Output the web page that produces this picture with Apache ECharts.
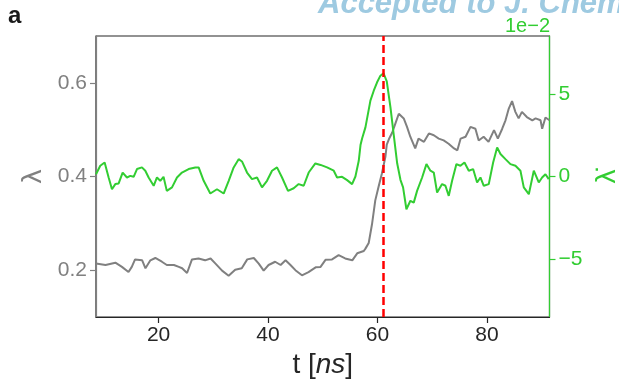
<!DOCTYPE html>
<html>
<head>
<meta charset="utf-8">
<title>lambda vs t</title>
<script src="https://cdn.jsdelivr.net/npm/echarts@6/dist/echarts.min.js"></script>
<style>
  html, body { margin: 0; padding: 0; background: #fff; }
  #main { width: 619px; height: 380px; }
</style>
</head>
<body>
<div id="main"></div>
<script>
// gray curve: lambda (left axis)
var lamT = [8.56, 10.3, 12.1, 13.3, 14.5, 15.1, 15.7, 17.0, 17.6, 18.5, 19.4, 20.6, 21.5, 22.8, 23.7,
  24.3, 25.2, 26.1, 27.3, 28.5, 29.5, 30.4, 31.6, 32.8, 34.0, 35.2, 36.2, 37.4, 38.3, 39.2,
  40.1, 41.3, 42.3, 43.2, 44.1, 45.0, 46.2, 47.4, 48.7, 49.6, 50.5, 51.7, 52.9, 54.1, 55.4,
  56.3, 57.5, 57.8, 58.4, 59.0, 59.6, 60.2, 60.8, 61.45, 61.7, 62.1, 62.7, 63.3, 63.9, 64.2, 64.8, 65.4, 66.0,
  66.9, 67.5, 68.5, 69.4, 70.3, 71.2, 72.1, 73.0, 74.0, 74.6, 75.2, 76.1, 77.0, 77.9, 78.5,
  79.4, 80.3, 81.3, 82.0, 82.8, 83.4, 84.0, 84.6, 85.2, 85.8, 86.4, 87.3, 88.3, 88.9, 89.8,
  90.1, 90.7, 91.44];
var lamV = [0.214, 0.211, 0.216, 0.207, 0.196, 0.207, 0.223, 0.221, 0.204, 0.221, 0.226, 0.218, 0.211, 0.211, 0.207,
  0.204, 0.194, 0.223, 0.225, 0.221, 0.225, 0.214, 0.199, 0.188, 0.201, 0.204, 0.223, 0.226, 0.214, 0.199,
  0.211, 0.218, 0.211, 0.221, 0.211, 0.200, 0.189, 0.196, 0.206, 0.207, 0.222, 0.223, 0.232, 0.225, 0.221,
  0.236, 0.241, 0.246, 0.258, 0.298, 0.349, 0.378, 0.406, 0.442, 0.468, 0.480, 0.494, 0.514, 0.534, 0.534, 0.524, 0.506, 0.485,
  0.460, 0.481, 0.474, 0.492, 0.488, 0.481, 0.477, 0.470, 0.460, 0.456, 0.481, 0.485, 0.506, 0.502, 0.477,
  0.485, 0.474, 0.499, 0.481, 0.502, 0.520, 0.545, 0.561, 0.538, 0.524, 0.538, 0.527, 0.520, 0.524, 0.520,
  0.502, 0.526, 0.520];

// green curve: d lambda / dt, in units of 1e-2 (right axis)
var dotT = [8.56, 9.34, 10.14, 10.87, 11.48, 12.09, 12.70, 13.43, 14.22, 14.83, 15.44, 16.05, 16.96, 17.57, 18.18,
  19.1, 19.7, 20.3, 20.9, 21.5, 22.45, 23.36, 24.27, 25.49, 26.71, 27.32, 28.24, 29.45, 30.67, 31.89,
  32.81, 33.72, 34.63, 35.24, 36.16, 37.07, 37.99, 38.9, 39.81, 40.73, 41.64, 42.56, 43.65, 44.69, 45.6,
  46.52, 47.43, 48.65, 49.6, 50.79, 52.01, 52.62, 53.53, 54.45, 55.36, 55.97, 56.58, 56.9, 57.19, 57.8,
  58.71, 59.32, 59.93, 60.54, 61.1, 61.7, 62.37, 62.98, 63.6, 64.2, 64.68, 65.29, 66.02, 66.63, 67.24,
  68.16, 68.95, 69.68, 70.29, 70.9, 71.81, 72.42, 73.03, 73.64, 74.43, 75.16, 75.9, 76.69, 77.48, 78.21,
  78.82, 79.43, 80.34, 81.14, 81.87, 82.48, 83.39, 84.3, 85.22, 86.13, 86.74, 87.66, 88.57, 89.48, 90.09,
  90.7, 91.3];
var dotV = [0.14, 0.65, 0.85, -0.06, -0.77, -0.46, -0.42, 0.24, -0.06, 0.04, -0.02, 0.45, 0.55, 0.35, -0.06,
  -0.56, -0.06, -0.26, -0.02, -0.87, -0.66, -0.06, 0.24, 0.45, 0.55, 0.55, -0.26, -1.03, -0.77, -1.03,
  -0.26, 0.55, 1.05, 0.91, 0.24, -0.16, -0.06, -0.66, -0.26, 0.35, 0.55, -0.06, -0.87, -0.71, -0.46,
  -0.56, 0.24, 0.79, 0.7, 0.55, 0.35, -0.06, -0.02, -0.22, -0.46, 0.0, 0.95, 1.9, 2.3, 2.97,
  4.59, 5.19, 5.7, 6.1, 6.25, 5.75, 4.2, 2.5, 0.8, -0.2, -0.66, -1.98, -1.47, -1.58, -0.87,
  -0.06, 0.75, 0.35, 0.24, -0.97, -0.46, -0.56, -1.17, -0.26, 0.75, 0.65, 0.85, 0.35, 0.45, -0.36,
  -0.06, -0.56, -0.46, 0.85, 1.76, 1.36, 1.05, 0.75, 0.65, 0.35, -0.66, -1.07, 0.35, -0.36, -0.06,
  0.14, -0.16];

var xTicks = [20, 40, 60, 80];
var lamTicks = [0.2, 0.4, 0.6];
var dotTicks = [-5, 0, 5];
var eventT = 61;

var FONT = '"Liberation Sans", Arial, sans-serif';
var GRAY = '#808080';
var GREEN = '#32cd32';
var INK = '#262626';

function zip(a, b) {
  var out = [];
  for (var i = 0; i < a.length; i++) out.push([a[i], b[i]]);
  return out;
}

var chart = echarts.init(document.getElementById('main'));

var option = {
  animation: false,
  backgroundColor: '#fff',
  grid: {
    left: 96, right: 69.5, top: 36, bottom: 63,
    outerBoundsMode: 'none',
    containLabel: false,
    show: true, borderColor: INK, borderWidth: 1.2, backgroundColor: 'transparent'
  },
  graphic: [
    { type: 'text', left: 8, top: 4,
      style: { text: 'a', fontSize: 24, fontWeight: 'bold', fontFamily: FONT, fill: '#1a1a1a' } },
    { type: 'text', x: 318, y: 20,
      style: { text: 'Accepted to J. Chem. Phys.', fontSize: 31, fontWeight: 'bold', fontStyle: 'italic',
               fontFamily: FONT, fill: '#9ecae1', verticalAlign: 'bottom' } },
    { type: 'text', x: 550, y: 16,
      style: { text: '1e\u22122', fontSize: 20, fontFamily: FONT, fill: GREEN, align: 'right', verticalAlign: 'top' } }
  ],
  xAxis: {
    type: 'value',
    min: 8.56, max: 91.44,
    name: '{n|t [}{i|ns}{n|]}',
    nameLocation: 'middle',
    nameGap: 34,
    nameTextStyle: {
      rich: {
        n: { fontSize: 28, fontFamily: FONT, color: INK },
        i: { fontSize: 28, fontFamily: FONT, fontStyle: 'italic', color: INK }
      }
    },
    axisLine: { onZero: false, lineStyle: { color: INK, width: 1.2 } },
    axisTick: { customValues: xTicks, length: 6, lineStyle: { color: INK, width: 1.2 } },
    axisLabel: { customValues: xTicks, fontSize: 21, fontFamily: FONT, color: INK, margin: 8 },
    splitLine: { show: false }
  },
  yAxis: [
    {
      type: 'value',
      min: 0.1, max: 0.7,
      name: '\u03bb',
      nameLocation: 'middle',
      nameRotate: 90,
      nameGap: 48,
      nameTextStyle: { fontSize: 28, fontFamily: FONT, color: GRAY },
      axisLine: { show: true, onZero: false, lineStyle: { color: GRAY, width: 1.2 } },
      axisTick: { show: true, customValues: lamTicks, length: 6, lineStyle: { color: GRAY, width: 1.2 } },
      axisLabel: { customValues: lamTicks, fontSize: 21, fontFamily: FONT, color: GRAY, margin: 9,
                   formatter: function (v) { return v.toFixed(1); } },
      splitLine: { show: false }
    },
    {
      type: 'value',
      position: 'right',
      min: -8.5, max: 8.5,
      name: '\u03bb\u0307',
      nameLocation: 'middle',
      nameRotate: 90,
      nameGap: 40,
      nameTextStyle: { fontSize: 28, fontFamily: FONT, color: GREEN },
      axisLine: { show: true, onZero: false, lineStyle: { color: GREEN, width: 1.2 } },
      axisTick: { show: true, customValues: dotTicks, length: 6, lineStyle: { color: GREEN, width: 1.2 } },
      axisLabel: { customValues: dotTicks, fontSize: 21, fontFamily: FONT, color: GREEN, margin: 9,
                   formatter: function (v) { return v < 0 ? '\u2212' + Math.abs(v) : String(v); } },
      splitLine: { show: false }
    }
  ],
  series: [
    {
      name: 'lambda',
      type: 'line',
      yAxisIndex: 0,
      data: zip(lamT, lamV),
      showSymbol: false,
      lineStyle: { color: GRAY, width: 2 },
      z: 2
    },
    {
      name: 'lambda dot',
      type: 'line',
      yAxisIndex: 1,
      data: zip(dotT, dotV),
      showSymbol: false,
      lineStyle: { color: GREEN, width: 2 },
      z: 3,
      markLine: {
        silent: true,
        symbol: 'none',
        label: { show: false },
        lineStyle: { color: '#ff0000', type: [8, 4], width: 2.5 },
        data: [{ xAxis: eventT }],
        z: 5
      }
    }
  ]
};

chart.setOption(option);
</script>
</body>
</html>
